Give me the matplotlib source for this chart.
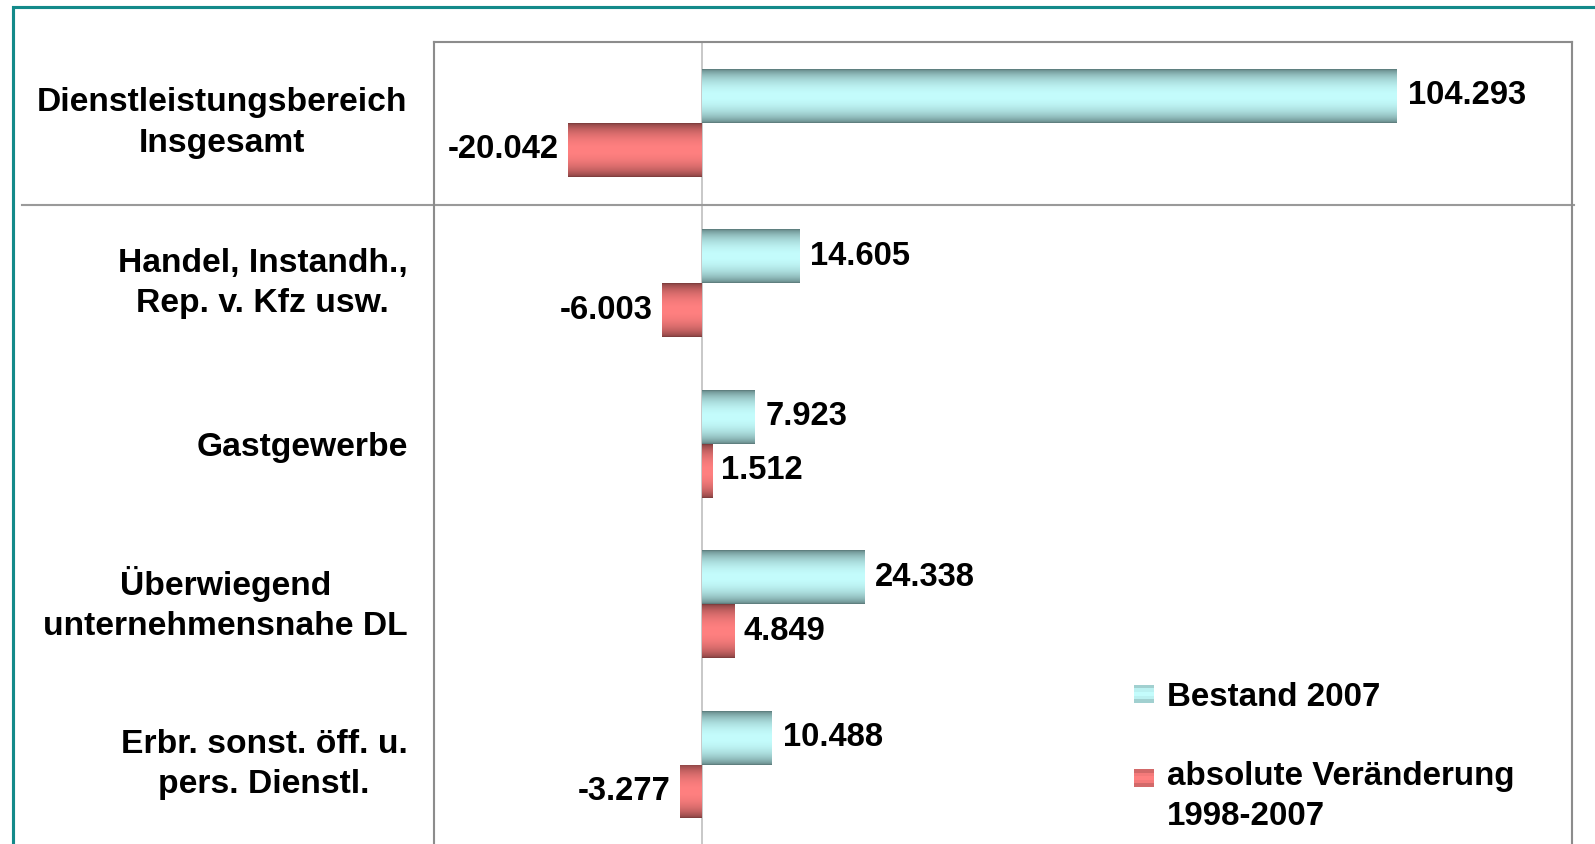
import numpy as np
import matplotlib
matplotlib.use("Agg")
import matplotlib.pyplot as plt
from matplotlib.patches import Rectangle, Patch
from matplotlib.legend_handler import HandlerBase
from matplotlib.transforms import blended_transform_factory

# data (values in persons, shown with German thousands separator)
categories = ["Dienstleistungsbereich\nInsgesamt",
              "Handel, Instandh.,\nRep. v. Kfz usw.",
              "Gastgewerbe",
              "Überwiegend\nunternehmensnahe DL",
              "Erbr. sonst. öff. u.\npers. Dienstl."]
bestand_2007 = [104293, 14605, 7923, 24338, 10488]
veraenderung = [-20042, -6003, 1512, 4849, -3277]
series_names = ["Bestand 2007", "absolute Veränderung\n1998-2007"]

plt.rcParams['font.family'] = ['Liberation Sans', 'DejaVu Sans']
plt.rcParams['font.weight'] = 'bold'

#layout measured on a 1568x830 view, saved at 1595x844
W, H = 1568, 830
fig = plt.figure(figsize=(W / 100, H / 100), dpi=100)

#axes placed in pixels, bottom runs off the picture like in the original
ax_left, ax_right, ax_top, ax_bottom = 427, 1545, 42, 860
ax = fig.add_axes([ax_left / W, 1 - ax_bottom / H, (ax_right - ax_left) / W, (ax_bottom - ax_top) / H])
band = 157.75
xlim = (-40160, 130550)
ylim = (-0.5 + (ax_bottom - ax_top) / band, -0.5)

teal_dark = np.array([0x5c, 0x7c, 0x7c]) / 255
teal_light = np.array([0xc4, 0xfc, 0xfc]) / 255
red_dark = np.array([0x7c, 0x3c, 0x3c]) / 255
red_light = np.array([0xff, 0x80, 0x80]) / 255


def profile(n):
    t = np.linspace(0, 1, n)
    return np.sin(np.pi * t) ** 0.6


def shade(bars, dark, light):
    f = profile(64)
    cols = dark[None, :] + (light - dark)[None, :] * f[:, None]
    img = cols[:, None, :]
    for b in bars:
        x, y, w, h = b.get_x(), b.get_y(), b.get_width(), b.get_height()
        im = ax.imshow(img, extent=(x, x + w, y + h, y), aspect='auto',
                       interpolation='bilinear', zorder=2)
        im.set_clip_path(b)
        b.set_facecolor('none')


pos = np.arange(len(categories))
bh = 0.336
bars1 = ax.barh(pos - bh / 2, bestand_2007, height=bh, zorder=2, linewidth=0)
bars2 = ax.barh(pos + bh / 2, veraenderung, height=bh, zorder=2, linewidth=0)
shade(bars1, teal_dark, teal_light)
shade(bars2, red_dark, red_light)
ax.set_xlim(*xlim)
ax.set_ylim(*ylim)

fmt = lambda v: f"{v:,}".replace(",", ".")
ax.bar_label(bars1, labels=[fmt(v) for v in bestand_2007], padding=8, fontsize=23.2, fontweight='bold')
ax.bar_label(bars2, labels=[fmt(v) for v in veraenderung], padding=6.5, fontsize=23.2, fontweight='bold')

#zero line
ax.axvline(0, color='#c0c0c0', lw=1.2, zorder=1)

#separator below the total
tr = blended_transform_factory(ax.transAxes, ax.transData)
ax.plot([(22 - ax_left) / (ax_right - ax_left), 1.002], [0.51, 0.51], color='#9a9a9a',
        lw=1.5, transform=tr, clip_on=False, zorder=1)

ax.set_xticks([])
ax.set_yticks(pos)
ax.set_yticklabels(categories, fontsize=23.8, fontweight='bold', linespacing=1.38)
for lab in ax.get_yticklabels():
    lab.set_multialignment('center')
    if "\n" in lab.get_text():
        lab.set_verticalalignment('center')
ax.tick_params(axis='y', length=0, pad=19)
for s in ['left', 'top', 'right']:
    ax.spines[s].set_color('#8c8c8c')
    ax.spines[s].set_linewidth(1.5)
ax.spines['bottom'].set_visible(False)


class StripeHandler(HandlerBase):
    def __init__(self, dark, light, yshift=0):
        super().__init__()
        self.dark, self.light, self.yshift = dark, light, yshift

    def create_artists(self, legend, orig_handle, xdescent, ydescent, width, height, fontsize, trans):
        n = 5
        f = profile(n + 2)[1:-1]
        arts = []
        for k in range(n):
            c = self.dark + (self.light - self.dark) * f[k]
            r = Rectangle((-xdescent, -ydescent + self.yshift + height * (n - 1 - k) / n), width, height / n,
                          facecolor=c, edgecolor='none', transform=trans)
            arts.append(r)
        return arts


h1 = Patch(label=series_names[0])
h2 = Patch(label=series_names[1])
ax.legend(handles=[h1, h2], loc='upper left', bbox_to_anchor=(1098 / W, 1 - 654 / H),
          bbox_transform=fig.transFigure, frameon=False,
          prop={'weight': 'bold', 'size': 23.5}, handlelength=0.62, handleheight=0.45,
          handletextpad=0.4, labelspacing=1.45, borderpad=0,
          handler_map={h1: StripeHandler(teal_dark, teal_light),
                       h2: StripeHandler(red_dark, red_light, yshift=13)})
for t in ax.get_legend().get_texts():
    t.set_linespacing(1.38)

#teal frame around the whole chart
fig.patches.append(Rectangle((13 / W, -0.1), 1.2, 1.1 - 7 / H, transform=fig.transFigure,
                             fill=False, edgecolor='#138a8a', lw=2.2))

fig.savefig("out.png", dpi=100 * 1595 / 1568)
